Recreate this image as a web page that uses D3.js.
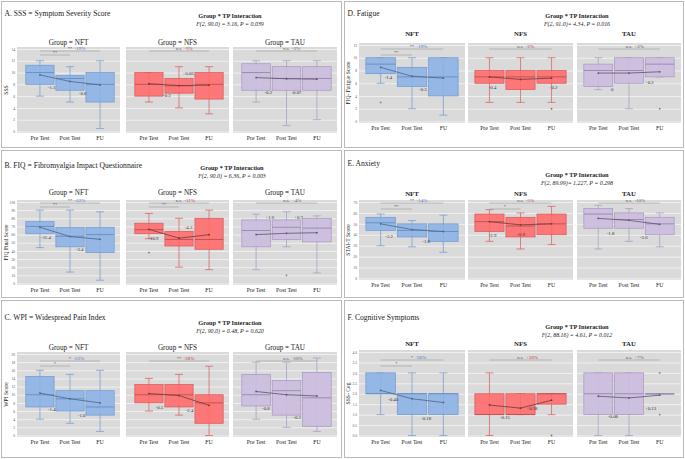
<!DOCTYPE html>
<html>
<head>
<meta charset="utf-8">
<script src="https://cdn.jsdelivr.net/npm/d3@7"></script>
<style>
body { margin: 0; background: #fff; }
svg text { font-family: "Liberation Serif", "DejaVu Serif", serif; }
</style>
</head>
<body>
<svg id="chart" width="685" height="459"></svg>
<script>
var groups = ['NFT', 'NFS', 'TAU'];
var times = ['Pre Test', 'Post Test', 'FU'];

// box stats per group, per time: [whisker low, q1, median, q3, whisker high, mean]
var sssStats = [
    [[6, 8, 10, 11.25, 12, 9.6], [5, 7, 9, 9.5, 11, 8.5], [0.5, 5, 8, 10, 12, 7.9]],
    [[5, 6, 8, 10, 10, 8.1], [4, 6.5, 7.75, 9, 11, 7.8], [3, 5.5, 8, 10, 11, 7.86]],
    [[5, 7, 10, 11.5, 12, 9.15], [1, 7, 9, 11, 12, 8.95], [2, 7, 9, 11, 12, 8.88]]
];
var fiqStats = [
    [[44, 61, 70, 76, 90, 69], [14, 45, 58, 69, 90, 57.6], [4, 38, 60, 69, 88, 54.2]],
    [[55, 61, 66, 74, 86, 66.5], [20, 46, 54, 64, 80, 55.6], [17, 42, 54, 80, 90, 59.9]],
    [[17, 45, 65, 78, 85, 60], [45, 54, 69, 78, 88, 61.6], [13, 51, 68, 80, 83, 62.3]]
];
var wpiStats = [
    [[4, 7, 10, 14.5, 16, 10.4], [3, 6, 9, 11, 15, 9.0], [1, 5, 7, 11, 16, 8.0]],
    [[6, 8, 10, 12.5, 14, 10.3], [5, 7, 10, 12.5, 15, 9.8], [0, 3, 8, 10, 17, 7.4]],
    [[4, 7.25, 10, 15, 18, 10.8], [2, 5, 11, 13.5, 18, 10.0], [1, 2.25, 9.25, 15.5, 19, 9.7]]
];
var fatigueStats = [
    [[6, 7.5, 9, 10, 10, 8.5], [2, 5.5, 7, 8.5, 10, 7.1], [1, 4, 7, 10, 10, 6.8]],
    [[3, 6, 7, 8, 10, 7.0], [3, 5, 7, 8, 10, 6.6], [3, 6, 7, 8, 10, 6.8]],
    [[5, 5.5, 8, 9, 10, 7.6], [2, 6, 8, 10, 10, 7.6], [7, 7, 9, 10, 10, 7.8]]
];
var anxietyStats = [
    [[30, 44, 51, 56, 59, 50], [29, 38, 44, 50, 53, 44.8], [24, 34, 43, 50, 58, 43.0]],
    [[34, 43, 52, 59, 63, 52], [27, 38, 48, 56, 60, 49.1], [31, 40, 50, 59, 66, 50]],
    [[27, 46, 59, 64, 67, 55], [34, 46, 54, 60, 64, 53.2], [29, 40, 50, 56, 60, 49.6]]
];
var cogStats = [
    [[1, 2, 2, 3, 3, 2.16], [0, 1, 2, 2, 3, 1.76], [0, 1, 2, 2, 3, 1.58]],
    [[0, 1, 1, 2, 3, 1.46], [1, 1, 1, 2, 2, 1.31], [1, 1.5, 2, 2, 2, 1.69]],
    [[0, 1, 2, 3, 3, 1.88], [0, 1, 2, 3, 3, 1.80], [2, 2, 2, 2, 2, 1.93]]
];

// outliers: [group, time, value]
var sssOut = [];
var fiqOut = [[1, 0, 38], [2, 1, 10]];
var wpiOut = [];
var fatigueOut = [[0, 0, 3], [1, 2, 2], [2, 2, 2]];
var anxietyOut = [];
var cogOut = [[1, 2, 0], [2, 2, 3], [2, 2, 1]];

// change labels per group: [text, time position, value]
var sssChange = [[['-1.1', 0.39, 7.4], ['-0.6', 1.42, 6.4]], [['-0.3', 0.6, 6.05], ['+0.06', 1.3, 9.8]], [['-0.2', 0.4, 6.6], ['-0.07', 1.33, 6.6]]];
var fiqChange = [[['-11.4', 0.2, 56.5], ['-3.4', 1.32, 42]], [['-10.9', 0.15, 55], ['+4.3', 1.3, 69]], [['+1.6', 0.45, 81], ['+0.7', 1.4, 81]]];
var wpiChange = [[['-1.4', 0.39, 6.5], ['-1.0', 1.39, 4.9]], [['-0.5', 0.35, 6.8], ['-2.4', 1.35, 6.1]], [['-0.8', 0.32, 6.6], ['-0.3', 1.35, 4.4]]];
var fatigueChange = [[['-1.4', 0.25, 6.9], ['-0.3', 1.35, 5.1]], [['-0.4', 0.1, 5.3], ['+0.2', 2.05, 5.3]], [['0', 0.45, 5.1], ['+0.2', 1.66, 6.2]]];
var anxietyChange = [[['-5.2', 0.27, 38.7], ['-1.8', 1.45, 34.4]], [['-2.9', 0.1, 39.6], ['+0.9', 1.0, 40.5]], [['-1.8', 0.4, 41], ['-3.6', 1.48, 37.5]]];
var cogChange = [[['-0.40', 0.4, 1.74], ['-0.18', 1.45, 0.83]], [['-0.15', 0.5, 0.85], ['+0.38', 1.37, 1.32]], [['-0.08', 0.48, 0.91], ['+0.13', 1.7, 1.32]]];

// significance brackets per group: [label, to time, percent]
var sssSig = [[['**', 2, '-19%'], ['**', 1, '']], [['n.s.', 2, '-3%']], [['n.s.', 2, '-3%']]];
var fiqSig = [[['**', 2, '-22%'], ['**', 1, '']], [['n.s.', 2, '-11%'], ['**', 1, '']], [['n.s.', 2, '+4%']]];
var wpiSig = [[['*', 2, '-23%'], ['*', 1, '']], [['**', 2, '-28%']], [['n.s.', 2, '-10%']]];
var fatigueSig = [[['**', 2, '-19%'], ['**', 1, '']], [['n.s.', 2, '-2%']], [['n.s.', 2, '+2%']]];
var anxietySig = [[['**', 2, '-14%'], ['**', 1, '']], [['n.s.', 2, '-5%'], ['*', 1, '']], [['n.s.', 2, '-10%']]];
var cogSig = [[['*', 2, '-26%'], ['*', 1, '']], [['n.s.', 2, '+10%']], [['n.s.', 2, '+7%']]];

var sssTicks = [0, 2, 4, 6, 8, 10, 12, 14];
var fiqTicks = [0, 10, 20, 30, 40, 50, 60, 70, 80, 90, 100];
var wpiTicks = [0, 2, 4, 6, 8, 10, 12, 14, 16, 18, 20];
var fatigueTicks = [0, 2, 4, 6, 8, 10, 12];
var anxietyTicks = [0, 10, 20, 30, 40, 50, 60, 70];
var cogTicks = [0, 0.5, 1, 1.5, 2, 2.5, 3, 3.5, 4];

var panels = [
    { id: 'A', title: 'A.  SSS = Symptom Severity Score', yTitle: 'SSS', f: 'F(2, 90.0) = 3.16, P = 0.039',
      stats: sssStats, out: sssOut, change: sssChange, sig: sssSig, ticks: sssTicks, fmt: 'd' },
    { id: 'B', title: 'B.  FIQ = Fibromyalgia Impact Questionnaire', yTitle: 'FIQ Final Score', f: 'F(2, 90.0) = 6.36, P = 0.003',
      stats: fiqStats, out: fiqOut, change: fiqChange, sig: fiqSig, ticks: fiqTicks, fmt: 'd' },
    { id: 'C', title: 'C.  WPI = Widespread Pain Index', yTitle: 'WPI Score', f: 'F(2, 90.0) = 0.48, P = 0.620',
      stats: wpiStats, out: wpiOut, change: wpiChange, sig: wpiSig, ticks: wpiTicks, fmt: 'd' },
    { id: 'D', title: 'D.  Fatigue', yTitle: 'FIQ- Fatigue Score', f: 'F(2, 91.0)= 4.34, P = 0.016',
      stats: fatigueStats, out: fatigueOut, change: fatigueChange, sig: fatigueSig, ticks: fatigueTicks, fmt: 'd' },
    { id: 'E', title: 'E. Anxiety', yTitle: 'STAI-T Score', f: 'F(2, 89.99)= 1.227, P = 0.298',
      stats: anxietyStats, out: anxietyOut, change: anxietyChange, sig: anxietySig, ticks: anxietyTicks, fmt: 'd' },
    { id: 'F', title: 'F.  Cognitive Symptoms', yTitle: 'SSS- Cog', f: 'F(2, 88.16) = 4.61, P = 0.012',
      stats: cogStats, out: cogOut, change: cogChange, sig: cogSig, ticks: cogTicks, fmt: '.1f' }
];

var layout = {
    A: { box: [1.5, 1.5, 341.5, 147.5], top: 47, bottom: 133, titleY: 15.5, fX: 230, fY: 18, gY: 45, br: [4, 8], col: 0 },
    B: { box: [1.5, 150.5, 341.5, 297.5], top: 200, bottom: 285, titleY: 167.5, fX: 232, fY: 170, gY: 195, br: [3, 7], col: 0 },
    C: { box: [1.5, 300.5, 341.5, 457.5], top: 352, bottom: 437, titleY: 319.5, fX: 230, fY: 325, gY: 350, br: [9, 14], col: 0 },
    D: { box: [344.5, 1.5, 683.5, 147.5], top: 43, bottom: 123, titleY: 15.5, fX: 577, fY: 18, gY: 35.5, br: [6, 12], col: 1 },
    E: { box: [344.5, 150.5, 683.5, 297.5], top: 200, bottom: 280, titleY: 165.5, fX: 577, fY: 177, gY: 195.5, br: [3, 9], col: 1 },
    F: { box: [344.5, 300.5, 683.5, 457.5], top: 350, bottom: 437, titleY: 319.5, fX: 577, fY: 329, gY: 345.5, br: [10, 16], col: 1 }
};
var leftCols = [[17, 120], [126, 229], [233, 337]];
var rightCols = [[359, 465], [468, 573], [577, 681]];
var insets = [[7, 4], [5, 5]];

var colors = {
    NFT: { fill: '#8cb3e6', edge: '#6f98cf', med: '#5f86bd', mean: '#4b6688', pct: '#3f74c9' },
    NFS: { fill: '#ff6b6b', edge: '#d95858', med: '#b84a4a', mean: '#6e3a3a', pct: '#c0392b' },
    TAU: { fill: '#cbbcdf', edge: '#a895c2', med: '#8e7da8', mean: '#5d5468', pct: '#5a5a5a' }
};

var svg = d3.select('#chart');

panels.forEach(drawPanel);

function drawPanel(p) {
    var L = layout[p.id];
    var g = svg.append('g');
    g.append('rect')
        .attr('x', L.box[0]).attr('y', L.box[1])
        .attr('width', L.box[2] - L.box[0]).attr('height', L.box[3] - L.box[1])
        .attr('fill', 'none').attr('stroke', '#aaa').attr('stroke-width', 0.8);
    g.append('text').attr('x', L.box[0] + 3).attr('y', L.titleY)
        .attr('font-size', 7.6).attr('fill', '#222').text(p.title);
    g.append('text').attr('x', L.fX).attr('y', L.fY).attr('text-anchor', 'middle')
        .attr('font-size', 6.3).attr('font-weight', 'bold').attr('fill', '#222').text('Group * TP Interaction');
    g.append('text').attr('x', L.fX).attr('y', L.fY + 8).attr('text-anchor', 'middle')
        .attr('font-size', 5.9).attr('font-style', 'italic').attr('fill', '#222').text(p.f);

    var cols = L.col ? rightCols : leftCols;
    var inset = insets[L.col];
    var y = d3.scaleLinear().domain([0, d3.max(p.ticks)]).range([L.bottom - 1.5, L.top + 2]);

    groups.forEach(function(grp, gi) {
        var l = cols[gi][0], r = cols[gi][1];
        var c = colors[grp];
        var x = d3.scaleBand().domain(times)
            .range([l + inset[0], r - inset[1]])
            .paddingInner(0.06).paddingOuter(0.06);
        var bw = x.bandwidth();
        var cx = function(i) { return x(times[0]) + bw / 2 + i * x.step(); };
        var sub = g.append('g');

        sub.append('rect').attr('x', l).attr('y', L.top)
            .attr('width', r - l).attr('height', L.bottom - L.top).attr('fill', '#dadada');

        // gridlines
        sub.append('g').attr('transform', 'translate(' + l + ',0)')
            .call(d3.axisLeft(y).tickValues(p.ticks).tickSize(-(r - l)).tickFormat(''))
            .call(function(s) {
                s.select('.domain').remove();
                s.selectAll('line').attr('stroke', '#fff').attr('stroke-width', 0.6);
            });

        if (gi === 0) {
            sub.append('g').attr('transform', 'translate(' + (l - 0.5) + ',0)')
                .call(d3.axisLeft(y).tickValues(p.ticks).tickSize(0).tickPadding(1.5).tickFormat(d3.format(p.fmt)))
                .call(function(s) {
                    s.select('.domain').remove();
                    s.selectAll('text').attr('font-size', 3.6).attr('fill', '#555')
                        .attr('font-family', '"Liberation Serif", serif');
                });
            sub.append('text')
                .attr('transform', 'translate(' + (l - 9.5) + ',' + ((L.top + L.bottom) / 2) + ') rotate(-90)')
                .attr('text-anchor', 'middle').attr('font-size', 5.6).attr('fill', '#222').text(p.yTitle);
        }

        // group title
        sub.append('text').attr('x', (l + r) / 2).attr('y', L.gY).attr('text-anchor', 'middle')
            .attr('font-size', L.col ? 6.8 : 7.2).attr('font-weight', L.col ? 'bold' : 'normal')
            .attr('fill', '#222').text(L.col ? grp : 'Group = ' + grp);

        // x labels
        sub.append('g').attr('transform', 'translate(0,' + L.bottom + ')')
            .call(d3.axisBottom(x).tickSize(0).tickPadding(2.5))
            .call(function(s) {
                s.select('.domain').remove();
                s.selectAll('text').attr('font-size', 5.8).attr('fill', '#222')
                    .attr('font-family', '"Liberation Serif", serif');
            });

        var stats = p.stats[gi];
        stats.forEach(function(s, ti) {
            var xc = cx(ti);
            sub.append('line').attr('x1', xc).attr('x2', xc).attr('y1', y(s[0])).attr('y2', y(s[4]))
                .attr('stroke', c.edge).attr('stroke-width', 0.7);
            [s[0], s[4]].forEach(function(v) {
                sub.append('line').attr('x1', xc - 4).attr('x2', xc + 4).attr('y1', y(v)).attr('y2', y(v))
                    .attr('stroke', c.edge).attr('stroke-width', 0.7);
            });
            sub.append('rect').attr('x', x(times[ti])).attr('y', y(s[3]))
                .attr('width', bw).attr('height', Math.max(0.6, y(s[1]) - y(s[3])))
                .attr('fill', c.fill).attr('fill-opacity', 0.9)
                .attr('stroke', c.edge).attr('stroke-width', 0.7);
            sub.append('line').attr('x1', x(times[ti])).attr('x2', x(times[ti]) + bw)
                .attr('y1', y(s[2])).attr('y2', y(s[2]))
                .attr('stroke', c.med).attr('stroke-width', 0.8);
        });

        p.out.filter(function(o) { return o[0] === gi; }).forEach(function(o) {
            sub.append('circle').attr('cx', cx(o[1])).attr('cy', y(o[2])).attr('r', 0.9)
                .attr('fill', c.mean).attr('fill-opacity', 0.7);
        });

        // mean line
        var line = d3.line()
            .x(function(d, i) { return cx(i); })
            .y(function(d) { return y(d[5]); });
        sub.append('path').datum(stats).attr('d', line)
            .attr('fill', 'none').attr('stroke', c.mean).attr('stroke-width', 0.8);
        sub.selectAll('circle.mean').data(stats).enter().append('circle')
            .attr('class', 'mean')
            .attr('cx', function(d, i) { return cx(i); })
            .attr('cy', function(d) { return y(d[5]); })
            .attr('r', 0.9).attr('fill', c.mean);

        // change labels
        p.change[gi].forEach(function(ch) {
            sub.append('text').attr('x', cx(ch[1])).attr('y', y(ch[2]) + 1.6)
                .attr('text-anchor', 'middle').attr('font-size', 4.8).attr('fill', '#333').text(ch[0]);
        });

        // significance brackets
        p.sig[gi].forEach(function(b) {
            var yb = L.top + (b[1] === 2 ? L.br[0] : L.br[1]);
            var x1 = cx(0), x2 = cx(b[1]), mid = (x1 + x2) / 2;
            sub.append('line').attr('x1', x1).attr('x2', x2).attr('y1', yb).attr('y2', yb)
                .attr('stroke', '#9a9a9a').attr('stroke-width', 0.6);
            var t = sub.append('text').attr('x', mid).attr('y', yb - 0.8)
                .attr('text-anchor', 'middle').attr('font-size', 4.6).attr('fill', '#555').text(b[0]);
            if (b[2]) {
                var w = t.node().getComputedTextLength();
                sub.append('text').attr('x', mid + w / 2 + 2.2).attr('y', yb - 0.8)
                    .attr('font-size', 5).attr('fill', c.pct).text(b[2]);
            }
        });
    });
}
</script>
</body>
</html>
